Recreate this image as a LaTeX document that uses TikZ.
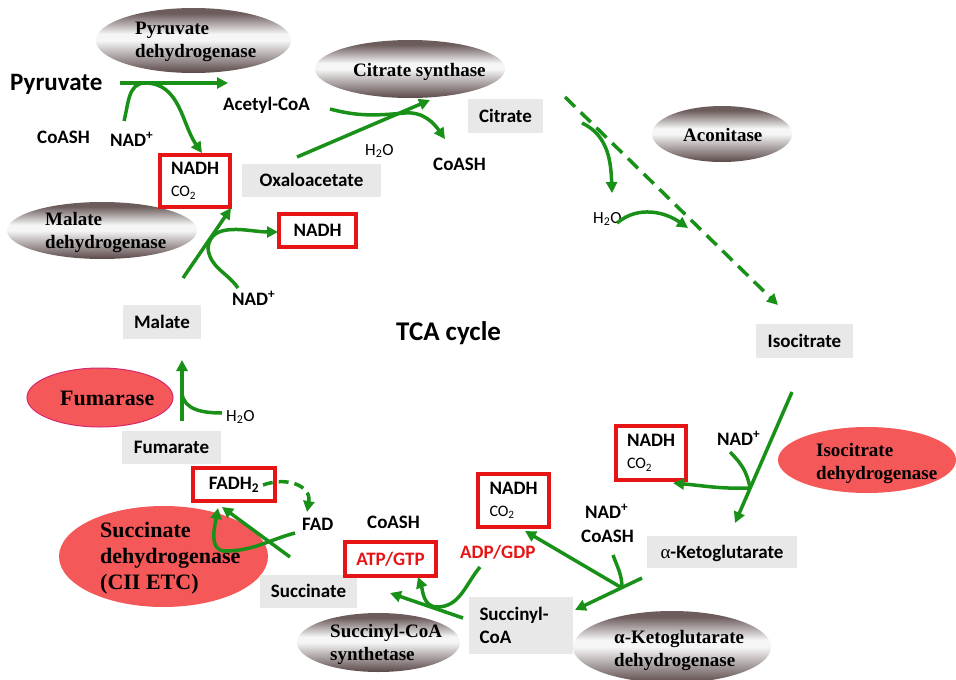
\documentclass[tikz,border=0pt]{standalone}
\usepackage{fontspec}
\usetikzlibrary{arrows.meta,shapes.geometric}
\newfontfamily\calfont{Carlito}
\newfontfamily\timesfont{Liberation Serif}
\definecolor{grn}{RGB}{25,145,25}
\definecolor{boxred}{RGB}{230,20,20}
\definecolor{boxgray}{RGB}{232,232,232}
\definecolor{enzred}{RGB}{245,88,88}
\definecolor{fumborder}{RGB}{215,40,110}
\definecolor{enzbot}{RGB}{90,72,72}
\definecolor{enztop}{RGB}{108,92,92}
\definecolor{enzlight}{RGB}{246,246,246}
\pgfdeclareverticalshading{enzshade}{100bp}{color(0bp)=(enzbot); color(25bp)=(enzbot); color(50bp)=(enzlight); color(55bp)=(enzlight); color(71bp)=(enztop); color(100bp)=(enztop)}
\begin{document}
\begin{tikzpicture}[x=1pt,y=-1pt,
  lbl/.style={inner sep=0pt, anchor=base west, font=\calfont\bfseries\fontsize{19}{23}\selectfont},
  sml/.style={inner sep=0pt, anchor=base west, font=\calfont\fontsize{17}{20}\selectfont},
  gbox/.style={fill=boxgray, inner sep=0pt, text height=14pt, text depth=2pt, font=\calfont\bfseries\fontsize{19}{23}\selectfont},
  rbox/.style={draw=boxred, line width=3.5pt, fill=white, inner sep=0pt, align=left, font=\calfont\bfseries\fontsize{19}{23}\selectfont},
  enz/.style={ellipse, inner sep=0pt, shading=enzshade},
  enzr/.style={ellipse, inner sep=0pt, fill=enzred},
  etxt/.style={inner sep=0pt, anchor=west, align=left, font=\timesfont\bfseries\fontsize{19}{23}\selectfont},
  etxtb/.style={etxt, font=\timesfont\bfseries\fontsize{22}{26}\selectfont},
  gline/.style={draw=grn, line width=3.5pt},
  garr/.style={gline, -{Triangle[length=11pt,width=11pt]}},
  gdash/.style={dash pattern=on 14pt off 8pt}
]
\useasboundingbox (0,0) rectangle (956,680);

% enzymes
\node[enz, minimum width=195pt, minimum height=65pt] (pdh) at (193.5,40.5) {};
\node[enz, minimum width=190pt, minimum height=58pt] (cs) at (410,69) {};
\node[enz, minimum width=140pt, minimum height=56pt] (acon) at (722,134) {};
\node[enz, minimum width=190pt, minimum height=57pt] (mdh) at (102,230.5) {};
\node[enzr, draw=fumborder, line width=1pt, minimum width=146pt, minimum height=59pt] (fum) at (100,397.5) {};
\node[enzr, minimum width=209pt, minimum height=101pt] (sdh) at (163.5,556.5) {};
\node[enz, minimum width=163pt, minimum height=59pt] (scs) at (378.5,642.5) {};
\node[enz, minimum width=198pt, minimum height=72pt] (akgdh) at (672,647) {};
\node[enzr, minimum width=178pt, minimum height=66pt] (idh) at (867,460) {};

\node[etxt] (pdht) at (135,42) {Pyruvate\\dehydrogenase};
\node[etxt] (cst) at (353,71.5) {Citrate synthase};
\node[etxt] (acont) at (683,134.5) {Aconitase};
\node[etxt] (mdht) at (45,233) {Malate\\dehydrogenase};
\node[etxtb] (fumt) at (60,398) {Fumarase};
\node[etxtb] (sdht) at (100,558) {Succinate\\dehydrogenase\\(CII ETC)};
\node[etxt] (scst) at (330,644) {Succinyl-CoA\\synthetase};
\node[etxt] (akgdht) at (614,650) {α-Ketoglutarate\\dehydrogenase};
\node[etxt] (idht) at (816,463) {Isocitrate\\dehydrogenase};

% metabolite boxes
\node[gbox, minimum width=139pt, minimum height=33pt] (oxa) at (311.5,180.5) {Oxaloacetate};
\node[gbox, minimum width=75pt, minimum height=34pt] (cit) at (505.5,116) {Citrate};
\node[gbox, minimum width=97pt, minimum height=34pt] (iso) at (804.5,341) {Isocitrate};
\node[gbox, minimum width=150pt, minimum height=32pt] (akg) at (722,552) {{\timesfont\mdseries α}-Ketoglutarate};
\node[gbox, minimum width=104pt, minimum height=57pt, text height=, text depth=, align=left, text width=83pt] (sca) at (521,625.5) {Succinyl-\\CoA};
\node[gbox, minimum width=97pt, minimum height=33pt] (suc) at (308.5,591.5) {Succinate};
\node[gbox, minimum width=99pt, minimum height=33pt] (fma) at (171.5,447.5) {Fumarate};
\node[gbox, minimum width=78pt, minimum height=34pt] (mal) at (162,322) {Malate};

% product boxes
\node[rbox, minimum width=70pt, minimum height=52pt] (nadh1) at (195,181) {NADH\\[-1pt]{\mdseries\fontsize{16}{19}\selectfont CO\textsubscript{2}}};
\node[rbox, minimum width=77pt, minimum height=33pt] (nadh2) at (317.5,230.5) {NADH};
\node[rbox, minimum width=70pt, minimum height=54pt] (nadh3) at (651,453) {NADH\\[-1pt]{\mdseries\fontsize{16}{19}\selectfont CO\textsubscript{2}}};
\node[rbox, minimum width=71pt, minimum height=53pt] (nadh4) at (513.5,500.5) {NADH\\[-1pt]{\mdseries\fontsize{16}{19}\selectfont CO\textsubscript{2}}};
\node[rbox, minimum width=82pt, minimum height=33pt] (fadh) at (234,484.5) {FADH\textsubscript{2}};
\node[rbox, minimum width=91pt, minimum height=34pt, text=boxred] (atp) at (390.5,559) {ATP/GTP};

% labels
\node[lbl, font=\calfont\bfseries\fontsize{25}{30}\selectfont] (pyr) at (10,90) {Pyruvate};
\node[lbl] (acoa) at (223,110) {Acetyl-CoA};
\node[lbl] (coash1) at (37,143) {CoASH};
\node[lbl] (nad1) at (110,146) {NAD\textsuperscript{+}};
\node[sml] (h2o1) at (365,155) {H\textsubscript{2}O};
\node[lbl] (coash2) at (433,170) {CoASH};
\node[sml] (h2o2) at (593,223) {H\textsubscript{2}O};
\node[lbl] (nad2) at (232,305) {NAD\textsuperscript{+}};
\node[lbl, font=\calfont\bfseries\fontsize{27}{32}\selectfont] (tca) at (396,340) {TCA cycle};
\node[sml] (h2o3) at (226,421) {H\textsubscript{2}O};
\node[lbl] (nad3) at (717,445) {NAD\textsuperscript{+}};
\node[lbl] (nad4) at (585,518) {NAD\textsuperscript{+}};
\node[lbl] (coash3) at (581,542) {CoASH};
\node[lbl] (fad) at (302,530) {FAD};
\node[lbl] (coash4) at (367,528) {CoASH};
\node[lbl, text=boxred] (adp) at (460,558) {ADP/GDP};

% coordinates
\coordinate (p1) at (120,83); \coordinate (p2) at (228,83);
\coordinate (p3) at (124,121); \coordinate (p4) at (145,83);
\coordinate (p5) at (202,153);
\coordinate (c1) at (297,157); \coordinate (c2) at (430,100);
\coordinate (c3) at (330,109); \coordinate (c4) at (405,113); \coordinate (c5) at (445,139);
\coordinate (a1) at (565,97); \coordinate (a2) at (778,305);
\coordinate (a3) at (582,123); \coordinate (a4) at (612,193);
\coordinate (a5) at (617,223); \coordinate (a6) at (688,228);
\coordinate (i1) at (792,392); \coordinate (i2) at (735,523);
\coordinate (i3) at (730,452); \coordinate (i4) at (750,488); \coordinate (i5) at (673,483);
\coordinate (k1) at (642,578); \coordinate (k2) at (575,610);
\coordinate (k3) at (613,555); \coordinate (k4) at (622,588); \coordinate (k5) at (525,531);
\coordinate (s1) at (463,618); \coordinate (s2) at (390,593);
\coordinate (s3) at (480,567); \coordinate (s4) at (437,607); \coordinate (s5) at (418,577);
\coordinate (d1) at (290,557); \coordinate (d2) at (222,507);
\coordinate (d3) at (295,533); \coordinate (d4) at (225,551); \coordinate (d5) at (218,508);
\coordinate (d6) at (263,485); \coordinate (d7) at (307,512);
\coordinate (f1) at (182,421); \coordinate (f2) at (182,360);
\coordinate (f3) at (222,413); \coordinate (f4) at (182,393);
\coordinate (m1) at (183,278); \coordinate (m2) at (231,208);
\coordinate (m3) at (238,288); \coordinate (m4) at (208,248); \coordinate (m5) at (278,232);

% pyruvate dehydrogenase
\draw[garr] (p1) -- (p2);
\draw[garr] (p3) to[out=75,in=180] (p4) to[out=0,in=125] (p5);
% citrate synthase
\draw[garr] (c1) -- (c2);
\draw[garr] (c3) to[out=-15,in=185] (c4) to[out=5,in=125] (c5);
% aconitase
\draw[garr, gdash] (a1) -- (a2);
\draw[garr] (a3) to[out=-25,in=92] (a4);
\draw[garr] (a5) to[out=40,in=145] (a6);
% isocitrate dehydrogenase
\draw[garr] (i1) -- (i2);
\draw[gline] (i3) to[out=-45,in=100] (i4);
\draw[garr] (i4) to[out=182,in=-5] (i5);
% alpha-KG dehydrogenase
\draw[garr] (k1) -- (k2);
\draw[gline] (k3) to[out=-70,in=90] (k4);
\draw[garr] (k4) -- (k5);
% succinyl-CoA synthetase
\draw[garr] (s1) -- (s2);
\draw[garr] (s3) to[out=-130,in=0] (s4) to[out=180,in=-70] (s5);
% succinate dehydrogenase
\draw[garr] (d1) -- (d2);
\draw[garr] (d3) to[out=195,in=0] (d4) to[out=180,in=-100] (d5);
\draw[garr, dash pattern=on 10pt off 6pt] (d6) to[out=20,in=80,looseness=1.3] (d7);
% fumarase
\draw[garr] (f1) -- (f2);
\draw[gline] (f3) to[out=180,in=-85] (f4);
% malate dehydrogenase
\draw[garr] (m1) -- (m2);
\draw[garr] (m3) to[out=125,in=-85] (m4) to[out=85,in=180] (m5);
\end{tikzpicture}
\end{document}
